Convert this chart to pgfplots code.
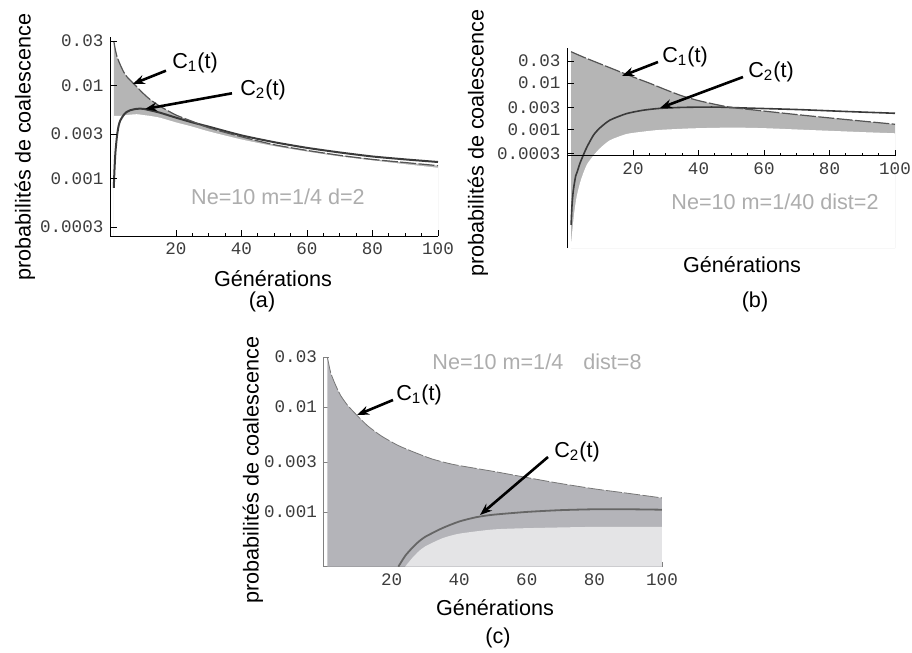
\documentclass[border=0pt]{standalone}
\usepackage{pgfplots}
\pgfplotsset{compat=1.18}
\usetikzlibrary{arrows.meta}
\usepackage{fontspec}
\setmainfont{Liberation Sans}
\setmonofont{Liberation Mono}
\definecolor{fillab}{HTML}{B5B5B5}
\definecolor{fillc}{HTML}{B4B4B9}
\definecolor{lightc}{HTML}{E4E4E6}
\definecolor{txtgray}{HTML}{ADADAD}
\definecolor{ctwo}{HTML}{3A3A3A}
\definecolor{cone}{HTML}{555555}
\definecolor{ctwoc}{HTML}{666666}
\definecolor{conec}{HTML}{777777}
\definecolor{tickc}{HTML}{3C3C3C}
\newcommand{\lab}{\fontsize{10.8}{13}\selectfont}
\newcommand{\tickf}{\fontsize{8.8}{10}\selectfont\ttfamily\color{tickc}}
\tikzset{arr/.style={-{Stealth[length=6pt,width=4.5pt]}, line width=1.3pt}}
\begin{document}
\begin{tikzpicture}
\useasboundingbox (0,0) rectangle (456pt,-326.5pt);

% ---------------- panel (a)
\begin{axis}[scale only axis, anchor=south west, at={(55.25pt,-118pt)},
  width=163.75pt, height=99.65pt,
  xmin=0, xmax=100, ymode=log, ymin=0.00024, ymax=0.0334,
  axis y line=left, axis x line=bottom, axis on top,
  axis line style={-, black, line width=0.5pt},
  xtick={20,40,60,80,100}, xticklabels={20,40,60,80,100},
  minor x tick num=3,
  ytick={0.0003,0.001,0.003,0.01,0.03},
  yticklabels={0.0003,0.001,0.003,0.01,0.03},
  ticklabel style={font=\tickf},
  tick style={black, line width=0.4pt},
  major tick length=3pt, minor tick length=1.6pt, tick align=inside]
\addplot[fill=fillab, draw=none, smooth, tension=0.4] coordinates {
(1,0.030)(1.5,0.024)(2,0.0203)(3,0.0166)(4,0.0140)(5,0.0124)(7,0.0105)(10,0.0082)(12,0.0071)(15,0.0060)(20,0.0048)(25,0.0041)(30,0.0035)(40,0.0028)(50,0.0023)(60,0.0020)(70,0.00177)(80,0.0016)(90,0.00148)(100,0.00137)} -- (axis cs:100,0.00024) -- (axis cs:1,0.00024) -- cycle;
\addplot[fill=white, draw=none, smooth, tension=0.4] coordinates {
(1,0.0047)(3,0.0047)(5,0.0048)(8,0.0049)(10,0.0048)(12,0.0047)(15,0.0045)(20,0.0040)(25,0.0036)(30,0.0032)(40,0.00262)(50,0.00222)(60,0.00194)(70,0.00172)(80,0.00156)(90,0.00142)(100,0.0013)} -- (axis cs:100,0.00024) -- (axis cs:1,0.00024) -- cycle;
\addplot[ctwo, line width=1pt, smooth, tension=0.4] coordinates {
(1,0.00079)(1.2,0.0012)(1.5,0.0019)(2,0.0029)(2.5,0.0037)(3,0.0042)(4,0.0048)(5,0.0052)(6,0.0054)(8,0.0056)(10,0.0056)(12,0.0054)(15,0.0051)(20,0.0045)(25,0.0040)(30,0.0036)(40,0.00290)(50,0.00245)(60,0.00213)(70,0.00190)(80,0.00172)(90,0.00160)(100,0.00150)};
\addplot[cone, line width=0.6pt, dash pattern=on 8pt off 1.2pt, smooth, tension=0.4] coordinates {
(1,0.030)(1.5,0.024)(2,0.0203)(3,0.0166)(4,0.0140)(5,0.0124)(7,0.0105)(10,0.0082)(12,0.0071)(15,0.0060)(20,0.0048)(25,0.0041)(30,0.0035)(40,0.0028)(50,0.0023)(60,0.0020)(70,0.00177)(80,0.0016)(90,0.00148)(100,0.00137)};
\end{axis}

% ---------------- panel (b)
\begin{axis}[scale only axis, anchor=south west, at={(283.75pt,-124pt)},
  width=163.75pt, height=100.15pt,
  xmin=0, xmax=100, ymode=log, ymin=2.8e-6, ymax=0.058,
  axis y line=left, axis x line=none, axis on top,
  axis line style={-, black, line width=0.5pt},
  xtick=\empty,
  ytick={0.0003,0.001,0.003,0.01,0.03},
  yticklabels={0.0003,0.001,0.003,0.01,0.03},
  ticklabel style={font=\tickf},
  tick style={black, line width=0.4pt},
  major tick length=3pt, tick align=inside]
\addplot[fill=fillab, draw=none, smooth, tension=0.4] coordinates {
(1.1,0.0475)(5,0.036)(10,0.026)(15,0.0188)(20,0.0136)(25,0.0100)(30,0.0072)(35,0.0053)(40,0.0042)(45,0.0035)(50,0.0030)(60,0.0025)(70,0.0021)(80,0.00178)(90,0.00152)(100,0.0013)} -- (axis cs:100,2.8e-6) -- (axis cs:1.1,2.8e-6) -- cycle;
\addplot[fill=white, draw=none, smooth, tension=0.4] coordinates {
(1.1,0.0000036)(2,0.000015)(2.8,0.000036)(3.8,0.00007)(4.8,0.000114)(6,0.00018)(8,0.00028)(10,0.0004)(13,0.00059)(18,0.0008)(23,0.0009)(28,0.00098)(38,0.00106)(50,0.0011)(60,0.00107)(75,0.00097)(90,0.00088)(100,0.00083)} -- (axis cs:100,2.8e-6) -- (axis cs:1.1,2.8e-6) -- cycle;
\addplot[ctwo, line width=0.8pt, smooth, tension=0.4] coordinates {
(1.1,0.0000088)(1.4,0.000025)(1.8,0.00005)(2.5,0.0001)(3,0.000125)(3.8,0.000187)(5,0.0003)(6,0.00043)(8,0.00077)(10,0.0011)(13,0.0016)(18,0.0022)(23,0.0026)(28,0.00285)(35,0.0030)(45,0.00305)(55,0.0029)(70,0.0027)(85,0.00245)(100,0.00224)};
\addplot[cone, line width=0.6pt, dash pattern=on 8pt off 1.2pt, smooth, tension=0.4] coordinates {
(1.1,0.0475)(5,0.036)(10,0.026)(15,0.0188)(20,0.0136)(25,0.0100)(30,0.0072)(35,0.0053)(40,0.0042)(45,0.0035)(50,0.0030)(60,0.0025)(70,0.0021)(80,0.00178)(90,0.00152)(100,0.0013)};
\end{axis}
\begin{axis}[scale only axis, anchor=south west, at={(283.75pt,-78pt)},
  width=163.75pt, height=54.15pt, xmin=0, xmax=100, ymin=0, ymax=1,
  axis x line=bottom, axis y line=none, ytick=\empty,
  axis line style={-, black, line width=0.5pt},
  xtick={20,40,60,80,100}, xticklabels={20,40,60,80,100},
  minor x tick num=3, ticklabel style={font=\tickf},
  tick style={black, line width=0.4pt},
  major tick length=3pt, minor tick length=1.6pt, tick align=inside]
\end{axis}

% ---------------- panel (c)
\begin{axis}[scale only axis, anchor=south west, at={(162pt,-283.35pt)},
  width=169pt, height=105pt,
  xmin=0, xmax=100, ymode=log, ymin=0.0003, ymax=0.0303,
  axis y line=left, axis x line=bottom,
  axis line style={-, gray, line width=0.5pt},
  xtick={20,40,60,80,100}, xticklabels={20,40,60,80,100},
  ytick={0.001,0.003,0.01,0.03}, yticklabels={0.001,0.003,0.01,0.03},
  ticklabel style={font=\tickf},
  tick style={gray, line width=0.4pt},
  major tick length=2.5pt, tick align=inside]
\addplot[fill=fillc, draw=none, smooth, tension=0.4] coordinates {
(1,0.0300)(1.5,0.025)(2,0.0212)(3,0.0175)(4,0.0148)(5,0.0128)(7,0.0104)(10,0.0082)(13,0.0066)(17,0.0053)(22,0.0043)(27,0.00368)(32,0.0032)(38,0.00285)(45,0.0026)(51,0.00241)(60,0.00213)(69,0.00189)(80,0.00166)(89,0.00152)(100,0.00136)} -- (axis cs:100,0.0003) -- (axis cs:1,0.0003) -- cycle;
\addplot[fill=lightc, draw=none, smooth, tension=0.4] coordinates {
(24,0.0003)(26,0.00036)(28,0.00042)(30,0.00047)(35,0.00056)(40,0.00062)(50,0.00068)(60,0.0007)(80,0.00072)(100,0.00072)} -- (axis cs:100,0.0003) -- cycle;
\addplot[ctwoc, line width=0.9pt, smooth, tension=0.4] coordinates {
(22,0.0003)(24,0.00038)(26,0.00045)(28,0.00052)(30,0.00058)(35,0.0007)(40,0.00081)(45,0.00089)(50,0.00094)(60,0.00100)(70,0.00104)(80,0.00106)(90,0.00106)(100,0.00105)};
\addplot[conec, line width=0.4pt, dash pattern=on 8pt off 1.2pt, smooth, tension=0.4] coordinates {
(1,0.0300)(1.5,0.025)(2,0.0212)(3,0.0175)(4,0.0148)(5,0.0128)(7,0.0104)(10,0.0082)(13,0.0066)(17,0.0053)(22,0.0043)(27,0.00368)(32,0.0032)(38,0.00285)(45,0.0026)(51,0.00241)(60,0.00213)(69,0.00189)(80,0.00166)(89,0.00152)(100,0.00136)};
\end{axis}

% ---------------- texts (a)
\node[rotate=90, font=\lab] at (12.5pt,-73.5pt) {probabilités de coalescence};
\node[font=\lab] at (136.5pt,-139.5pt) {Générations};
\node[font=\lab] at (131pt,-151pt) {(a)};
\node[font=\lab, text=txtgray] at (139pt,-98.5pt) {Ne=10 m=1/4 d=2};
\node[font=\lab] at (97.5pt,-31.5pt) {C\textsubscript{1}(t)};
\draw[arr] (83pt,-35.35pt) -- (66.35pt,-42pt);
\node[font=\lab] at (131.5pt,-45pt) {C\textsubscript{2}(t)};
\draw[arr] (116pt,-46.65pt) -- (72.5pt,-54.5pt);

% ---------------- texts (b)
\node[rotate=90, font=\lab] at (239pt,-71.5pt) {probabilités de coalescence};
\node[font=\lab] at (371pt,-132.5pt) {Générations};
\node[font=\lab] at (377.5pt,-151pt) {(b)};
\node[font=\lab, text=txtgray] at (387.5pt,-101pt) {Ne=10 m=1/40 dist=2};
\node[font=\lab] at (342.5pt,-28.5pt) {C\textsubscript{1}(t)};
\draw[arr] (329pt,-31pt) -- (311pt,-38pt);
\node[font=\lab] at (385.5pt,-36pt) {C\textsubscript{2}(t)};
\draw[arr] (371.5pt,-38.5pt) -- (330pt,-54pt);

% ---------------- texts (c)
\node[rotate=90, font=\lab] at (126.5pt,-235pt) {probabilités de coalescence};
\node[font=\lab] at (247.5pt,-304pt) {Générations};
\node[font=\lab] at (249pt,-319pt) {(c)};
\node[font=\lab, text=txtgray] at (268.5pt,-181pt) {Ne=10 m=1/4\hspace{0.65em} dist=8};
\node[font=\lab] at (209.5pt,-197.5pt) {C\textsubscript{1}(t)};
\draw[arr] (196.5pt,-200pt) -- (178.5pt,-207.5pt);
\node[font=\lab] at (288.5pt,-226pt) {C\textsubscript{2}(t)};
\draw[arr] (274pt,-228.5pt) -- (240pt,-257.5pt);
\end{tikzpicture}
\end{document}
